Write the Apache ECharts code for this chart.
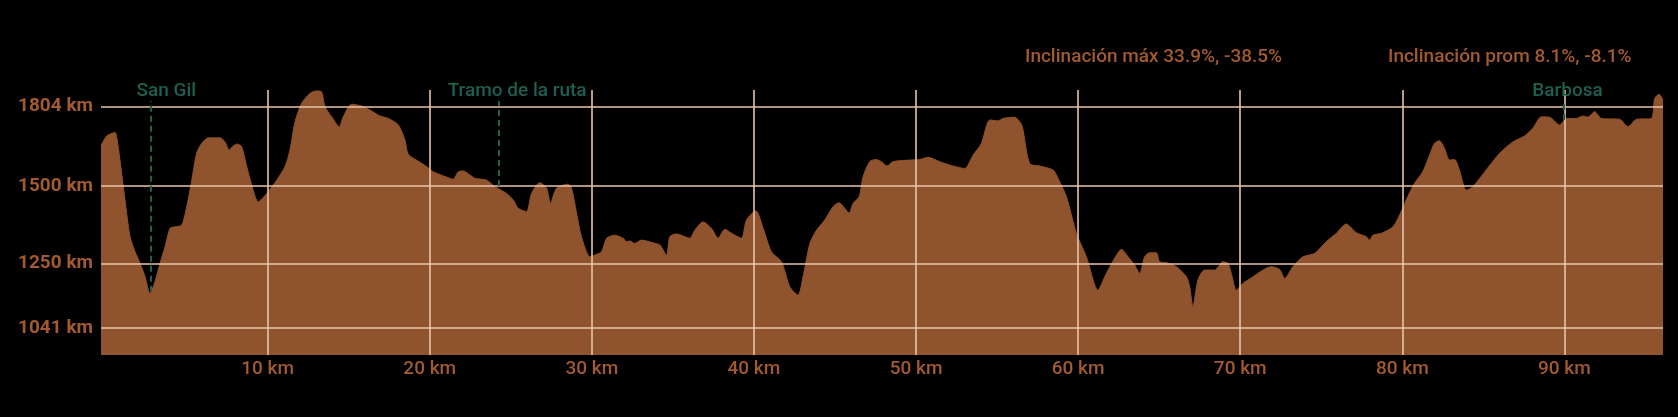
<!DOCTYPE html>
<html>
<head>
<meta charset="utf-8">
<script src="https://cdn.jsdelivr.net/npm/echarts@6/dist/echarts.min.js"></script>
<style>
html,body{margin:0;padding:0;background:#000;}
#chart{width:1678px;height:417px;}
</style>
</head>
<body>
<div id="chart"></div>
<script>
// ---- data ----
const kmValues = [
-0.28,0.07,0.59,0.69,0.89,1.20,1.51,1.82,2.13,2.44,2.74,3.05,3.36,3.67,3.98,4.29,4.70,5.01,5.32,5.62,5.93,6.34,7.06,7.37,7.63,7.88,8.13,8.40,8.71,9.02,9.42,9.94,
10.56,11.07,11.38,11.69,12.10,12.61,13.02,13.33,13.54,13.95,14.42,14.66,15.18,15.80,16.31,16.93,17.44,18.06,18.47,18.67,19.18,19.81,
20.22,21.24,21.45,21.76,22.06,22.48,22.79,23.51,24.02,24.74,25.15,25.46,25.97,26.28,26.79,27.21,27.45,27.82,28.54,28.75,29.06,29.36,29.88,
30.19,30.60,30.91,31.42,31.93,32.14,32.35,32.65,33.07,33.78,34.20,34.61,34.81,35.22,36.05,36.35,36.86,37.38,37.79,38.20,38.62,39.23,39.54,
40.12,40.57,41.08,41.70,42.21,42.72,43.03,43.45,43.86,44.37,44.88,45.25,45.60,45.87,46.12,46.49,46.73,47.14,47.51,47.86,48.21,48.58,49.61,
50.23,50.74,51.46,52.28,53.00,53.52,54.03,54.55,55.06,55.37,56.09,56.40,56.56,57.01,57.63,58.45,58.76,59.28,59.89,
60.51,61.22,61.74,62.25,62.67,63.08,63.49,63.80,64.10,64.41,64.82,65.03,65.44,66.06,66.68,66.88,67.08,67.39,67.80,68.42,68.93,69.24,69.45,69.76,
70.17,70.78,71.40,71.91,72.43,72.74,73.25,73.87,74.59,75.31,75.93,76.54,77.16,77.78,77.98,78.19,78.70,79.42,79.83,
80.24,80.75,81.26,81.68,81.98,82.29,82.60,82.91,83.22,83.52,83.94,84.35,85.17,86.00,86.82,87.54,88.05,88.57,89.08,89.70,
90.11,90.73,91.14,91.45,91.86,92.27,93.41,93.92,94.44,95.36,95.57,95.84,96.08
];
const elevValues = [
1630,1662,1673,1658,1584,1455,1336,1287,1250,1206,1152,1190,1250,1303,1363,1368,1374,1433,1519,1606,1638,1656,1656,1643,1617,1630,1636,1627,1563,1503,1449,1476,
1519,1563,1617,1708,1768,1800,1808,1805,1757,1724,1692,1724,1765,1759,1746,1727,1719,1698,1649,1603,1584,1563,
1546,1525,1522,1546,1549,1536,1525,1519,1498,1476,1455,1428,1417,1476,1511,1493,1444,1493,1506,1493,1412,1336,1271,
1277,1287,1331,1341,1331,1320,1322,1314,1325,1316,1309,1276,1336,1345,1331,1357,1384,1363,1331,1360,1347,1331,1390,
1420,1363,1287,1255,1174,1147,1206,1314,1357,1390,1433,1446,1428,1412,1444,1465,1530,1579,1586,1579,1565,1579,1584,
1586,1593,1579,1565,1557,1600,1638,1714,1711,1719,1723,1708,1692,1573,1565,1552,1525,1465,1347,
1271,1163,1217,1266,1295,1271,1244,1217,1271,1284,1284,1255,1252,1239,1206,1174,1109,1196,1228,1228,1255,1250,1217,1163,
1185,1206,1228,1239,1230,1201,1239,1271,1282,1320,1347,1377,1349,1336,1325,1341,1347,1368,1406,
1455,1509,1546,1600,1638,1647,1622,1584,1586,1552,1487,1498,1552,1606,1643,1662,1687,1724,1723,1698,
1719,1719,1727,1723,1741,1719,1716,1692,1716,1719,1784,1797,1779
];
const yTickValues = [1041, 1250, 1500, 1757];
const yTickLabels = ['1041 km', '1250 km', '1500 km', '1804 km'];
const xTickValues = [10, 20, 30, 40, 50, 60, 70, 80, 90];
const xTickLabels = ['10 km', '20 km', '30 km', '40 km', '50 km', '60 km', '70 km', '80 km', '90 km'];
const markerNames = ['San Gil', 'Tramo de la ruta', 'Barbosa'];
const markerKm = [2.76, 24.28, 89.94];
const markerElev = [1158, 1500, 1714];
const statTexts = ['Inclinación máx 33.9%, -38.5%', 'Inclinación prom 8.1%, -8.1%'];

// ---- layout / style ----
const Y_MIN = 953, Y_MAX = 1811, X_MIN = -0.28, X_MAX = 96.08, MARKER_TOP = 1775;
const markerLabelShift = [16, 18, 4];
const TEXT_COLOR = '#a35a2f';
const TEAL = '#1f5f50';
const GRID_COLOR = '#e8c4aa';
const FILL = '#8f532e';
const FONT = 'Roboto';

const profile = kmValues.map((k, i) => [k, elevValues[i]]);

const chart = echarts.init(document.getElementById('chart'), null, {renderer: 'canvas'});
chart.setOption({
  backgroundColor: '#000',
  animation: false,
  title: [
    {text: statTexts[0], left: 1025, top: 46, padding: 0,
     textStyle: {color: TEXT_COLOR, fontFamily: FONT, fontSize: 19, fontWeight: 500, lineHeight: 22}},
    {text: statTexts[1], left: 1388, top: 46, padding: 0,
     textStyle: {color: TEXT_COLOR, fontFamily: FONT, fontSize: 19, fontWeight: 500, lineHeight: 22}}
  ],
  grid: {left: 101, right: 15, top: 90, bottom: 62, containLabel: false},
  xAxis: {type: 'value', min: X_MIN, max: X_MAX, show: false},
  yAxis: {type: 'value', min: Y_MIN, max: Y_MAX, show: false},
  series: [
    {
      type: 'line',
      data: profile,
      smooth: 0.25,
      showSymbol: false,
      symbol: 'none',
      lineStyle: {width: 1, color: FILL},
      areaStyle: {color: FILL, opacity: 1, origin: 'start'},
      z: 2
    },
    {
      type: 'line',
      data: [],
      markLine: {
        silent: true,
        symbol: ['none', 'none'],
        z: 5,
        lineStyle: {color: GRID_COLOR, width: 1.6, type: 'solid', opacity: 1},
        label: {show: true, color: TEXT_COLOR, fontFamily: FONT, fontSize: 19, fontWeight: 500},
        data: [
          ...yTickValues.map((v, i) => ({
            yAxis: v,
            label: {position: 'start', distance: 8, formatter: yTickLabels[i], fontWeight: 'bold',
                    padding: i === yTickValues.length - 1 ? [0, 0, 13, 0] : 0}
          })),
          ...xTickValues.map((v, i) => ([
            {coord: [v, Y_MIN], label: {position: 'start', distance: 5, formatter: xTickLabels[i]}},
            {coord: [v, Y_MAX]}
          ]))
        ]
      }
    },
    {
      type: 'line',
      data: [],
      markLine: {
        silent: true,
        symbol: ['none', 'none'],
        z: 6,
        lineStyle: {color: TEAL, width: 2, type: [6, 4], opacity: 1},
        label: {show: true, position: 'end', distance: 0, color: TEAL, fontFamily: FONT,
                fontSize: 19, fontWeight: 500, lineHeight: 20},
        data: markerKm.map((k, i) => ([
          {coord: [k, markerElev[i]]},
          {coord: [k, MARKER_TOP], label: {formatter: markerNames[i], padding: [0, 0, 0, markerLabelShift[i] * 2]}}
        ]))
      }
    }
  ]
});
</script>
</body>
</html>
